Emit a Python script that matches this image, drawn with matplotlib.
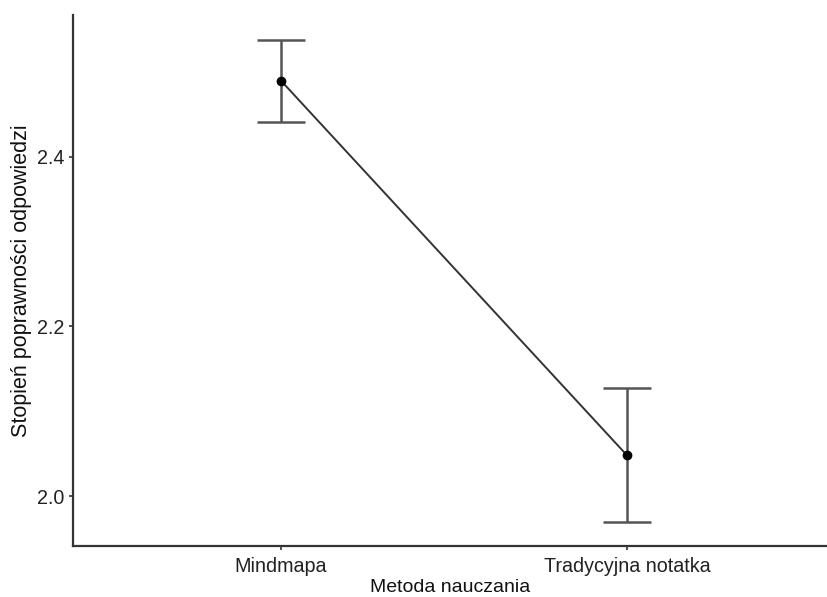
import matplotlib.pyplot as plt

plt.rcParams['font.family'] = ['Liberation Sans', 'DejaVu Sans']

# data
methods = ['Mindmapa', 'Tradycyjna notatka']
means = [2.490, 2.048]
lower = [2.441, 1.969]
upper = [2.538, 2.127]

x = list(range(1, len(methods) + 1))

fig = plt.figure(figsize=(8.27, 5.97), dpi=100)
ax = fig.add_axes([0.0883, 0.0854, 0.9117, 0.8896])

err_lo = [m - l for m, l in zip(means, lower)]
err_hi = [u - m for m, u in zip(means, upper)]

ax.plot(x, means, color='#333333', lw=1.4, zorder=2)
ax.errorbar(x, means, yerr=[err_lo, err_hi], fmt='none', ecolor='#555555',
            elinewidth=1.8, capsize=17, capthick=1.8, zorder=1)
ax.plot(x, means, 'o', color='black', ms=6, zorder=3)

ax.set_xlim(0.399, 2.578)
ax.set_ylim(1.941, 2.5676)
ax.set_xticks(x)
ax.set_xticklabels(methods)
ax.set_yticks([2.0, 2.2, 2.4])
ax.set_yticklabels(['2.0', '2.2', '2.4'])

for s in ['top', 'right']:
    ax.spines[s].set_visible(False)
for s in ['left', 'bottom']:
    ax.spines[s].set_color('#333333')
    ax.spines[s].set_linewidth(1.6)

ax.tick_params(axis='both', length=3, width=1.2, color='#333333',
               labelsize=14.2, labelcolor='#222222', pad=3)
ax.tick_params(axis='x', pad=5)
ax.set_xlabel('Metoda nauczania', fontsize=14, color='#111111', labelpad=2)
ax.set_ylabel('Stopień poprawności odpowiedzi', fontsize=15.5, color='#111111', labelpad=4)

fig.savefig('out.png', dpi=100)
